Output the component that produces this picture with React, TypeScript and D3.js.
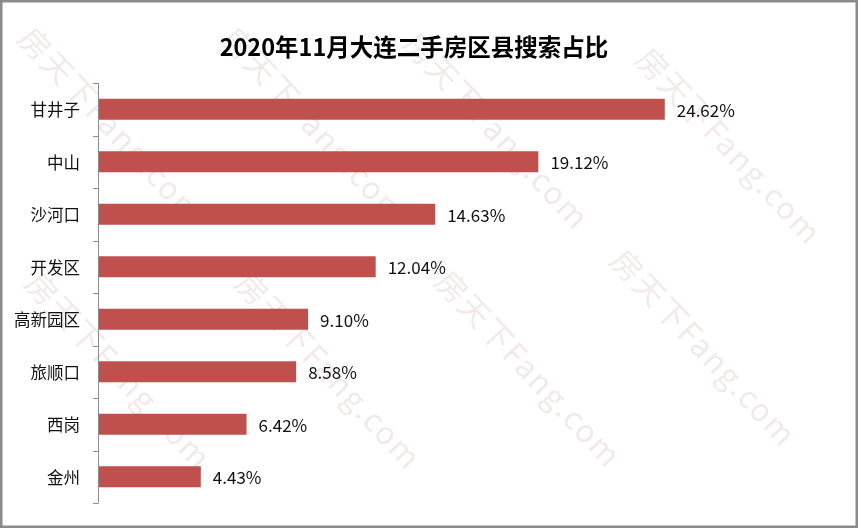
import React from "react";
import * as d3 from "d3";

const categories = ["甘井子", "中山", "沙河口", "开发区", "高新园区", "旅顺口", "西岗", "金州"];
const values = [24.62, 19.12, 14.63, 12.04, 9.1, 8.58, 6.42, 4.43];
const valueLabels = ["24.62%", "19.12%", "14.63%", "12.04%", "9.10%", "8.58%", "6.42%", "4.43%"];
const title = "2020年11月大连二手房区县搜索占比";
const watermarkText = "房天下Fang.com";
const watermarkAnchors: [number, number][] = [
  [40, 45], [243, 45], [425, 50], [658, 65],
  [47, 290], [257, 290], [457, 288], [632, 267],
];

const W = 858;
const H = 528;
const CJK = "'Noto Sans CJK SC', 'Noto Sans', sans-serif";

export default function App() {
  const x = d3.scaleLinear().domain([0, 25]).range([99, 99 + 25 * 22.98]);
  const y = d3.scaleBand<string>().domain(categories).range([83, 503]).paddingInner(0.6).paddingOuter(0.3);
  const step = y.step();
  const tickYs = d3.range(categories.length + 1).map((i) => 83 + i * step);

  return (
    <svg width={W} height={H} style={{ position: "absolute", left: 0, top: 0, background: "#fff" }}>
      <rect x={0} y={0} width={W} height={H} fill="#fff" />
      {/* watermarks */}
      <g fill="#dcc4c4" opacity={0.38} fontFamily={CJK} fontSize={31}>
        {watermarkAnchors.map(([wx, wy], i) => (
          <text key={i} x={0} y={0} dominantBaseline="central" letterSpacing={2}
            transform={`translate(${wx - 14},${wy - 14}) rotate(47)`}>
            {watermarkText}
          </text>
        ))}
      </g>
      <text x={414} y={56} textAnchor="middle" fontFamily={CJK} fontWeight="bold" fontSize={23.5} fill="#000">
        {title}
      </text>
      {/* axis */}
      <g stroke="#8c8c8c" strokeWidth={1}>
        <line x1={98.5} x2={98.5} y1={83} y2={503} />
        {tickYs.map((ty, i) => (
          <line key={i} x1={93} x2={98.5} y1={Math.round(ty) + 0.5} y2={Math.round(ty) + 0.5} />
        ))}
      </g>
      {categories.map((c, i) => {
        const by = y(c)!;
        const bw = y.bandwidth();
        return (
          <g key={c}>
            <rect x={x(0)} y={by} width={x(values[i]) - x(0)} height={bw} fill="#c0504d" />
            <text x={80} y={by + bw / 2} dominantBaseline="central" textAnchor="end"
              fontFamily={CJK} fontSize={16.5} fill="#111">{c}</text>
            <text x={x(values[i]) + 12} y={by + bw / 2} dominantBaseline="central"
              fontFamily={CJK} fontSize={17} fill="#111">{valueLabels[i]}</text>
          </g>
        );
      })}
      <rect x={1.25} y={1.25} width={W - 2.5} height={H - 2.5} fill="none" stroke="#8a8a8a" strokeWidth={2.5} />
    </svg>
  );
}
